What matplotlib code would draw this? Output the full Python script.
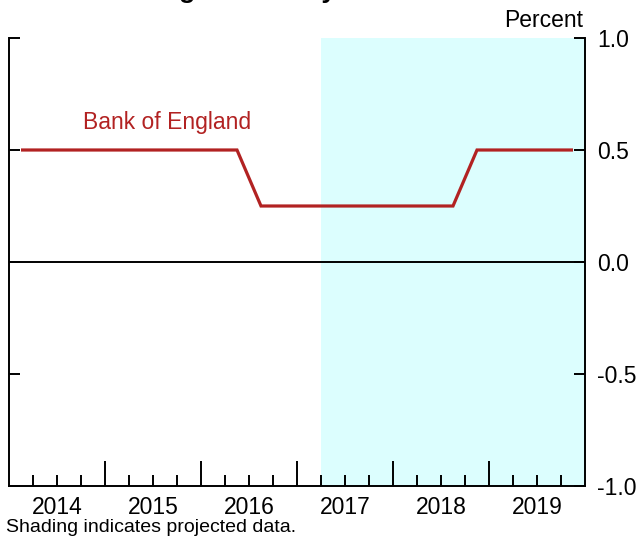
import numpy as np
import matplotlib
matplotlib.use("Agg")
import matplotlib.pyplot as plt
from matplotlib.ticker import FixedLocator, FuncFormatter

plt.rcParams["font.family"] = ["Liberation Sans", "DejaVu Sans"]

# Quarterly policy rate, plotted at quarter midpoints (2014Q1 .. 2019Q4)
quarter_start = 2014.0
rates = [0.5, 0.5, 0.5, 0.5,
         0.5, 0.5, 0.5, 0.5,
         0.5, 0.5, 0.25, 0.25,
         0.25, 0.25, 0.25, 0.25,
         0.25, 0.25, 0.25, 0.5,
         0.5, 0.5, 0.5, 0.5]
series_label = "Bank of England"
years = [2014, 2015, 2016, 2017, 2018, 2019]
projection_start = 2017.25
x_range = (2014.0, 2020.0)
y_range = (-1.0, 1.0)
y_ticks = [-1.0, -0.5, 0.0, 0.5, 1.0]

dates = quarter_start + 0.125 + 0.25 * np.arange(len(rates))

fig = plt.figure(figsize=(6.42, 5.37), dpi=100)
ax = fig.add_axes([9 / 642, 51 / 537, 576 / 642, 448 / 537])

ax.axvspan(projection_start, x_range[1], color="#DCFEFE", lw=0, zorder=0)
ax.axhline(0, color="black", lw=1.4, zorder=2)
ax.plot(dates, rates, color="#B22222", lw=2.3, solid_capstyle="butt",
        solid_joinstyle="miter", zorder=3)
ax.text(2015.65, 0.625, series_label, color="#B22222", fontsize=16.5,
        ha="center", va="center")

ax.set_xlim(*x_range)
ax.set_ylim(*y_range)

# quarter ticks (labels only at mid-year), taller ticks at year boundaries
quarters = [y + q for y in years for q in (0.25, 0.5, 0.75)]
ax.xaxis.set_major_locator(FixedLocator(quarters))
ax.xaxis.set_major_formatter(
    FuncFormatter(lambda v, p: f"{int(v)}" if abs(v % 1 - 0.5) < 1e-6 else ""))
ax.xaxis.set_minor_locator(FixedLocator(years[1:]))
ax.tick_params(axis="x", which="major", direction="in", length=8, width=1.4,
               labelsize=16.5, pad=7)
ax.tick_params(axis="x", which="minor", direction="in", length=18, width=1.4)

ax.set_yticks(y_ticks)
ax.yaxis.set_major_formatter(FuncFormatter(lambda v, p: f"{v:.1f}"))
ax.tick_params(axis="y", direction="in", length=8, width=1.4, left=True,
               right=True, labelleft=False, labelright=True, labelsize=16.5,
               pad=8.5)

for side in ("left", "right", "bottom"):
    ax.spines[side].set_linewidth(1.4)
ax.spines["top"].set_visible(False)

fig.text(583 / 642, 1 - 27 / 537, "Percent", ha="right", va="baseline",
         fontsize=16.5)
fig.text(47 / 642, 1 + 2 / 537, "United Kingdom Policy Rate", ha="left",
         va="baseline", fontsize=19, fontweight="bold")
fig.text(6 / 642, 1 / 537, "Shading indicates projected data.", ha="left",
         va="bottom", fontsize=14)

fig.savefig("out.png", dpi=100)
